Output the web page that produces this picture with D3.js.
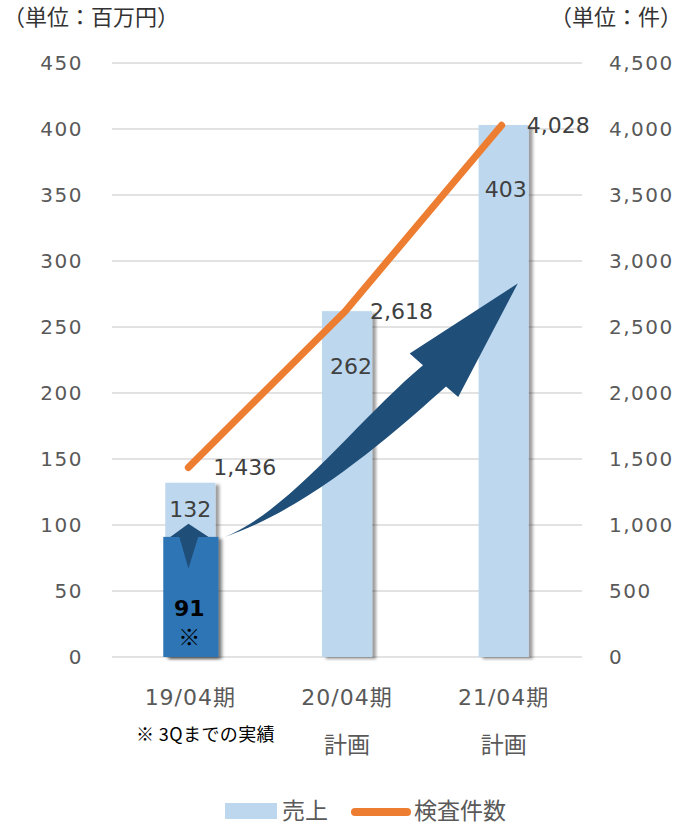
<!DOCTYPE html>
<html>
<head>
<meta charset="utf-8">
<script src="https://cdn.jsdelivr.net/npm/d3@7"></script>
<style>
  html, body { margin: 0; padding: 0; background: #fff; }
  svg { display: block; }
  text { font-family: "DejaVu Sans", "Noto Sans CJK JP", sans-serif; }
  .cjk { font-family: "Noto Sans CJK JP", sans-serif; }
</style>
</head>
<body>
<svg id="chart" width="683" height="828"></svg>
<script>
// Periods, planned flags and values
const categories = ["19/04期", "20/04期", "21/04期"];
const subLabels = ["", "計画", "計画"];
const sales = [132, 262, 403];          // 売上（百万円）
const salesActual3Q = 91;               // 19/04期 3Qまでの実績
const inspections = [1436, 2618, 4028]; // 検査件数（件）
const leftTicks = [0, 50, 100, 150, 200, 250, 300, 350, 400, 450];
const rightTicks = [0, 500, 1000, 1500, 2000, 2500, 3000, 3500, 4000, 4500];

const svg = d3.select("#chart");
const plot = { left: 112, right: 582, top: 63, bottom: 657 };

const x = d3.scaleBand().domain(categories)
  .range([plot.left, plot.right]).paddingInner(0.68).paddingOuter(0.34);
const bw = x.bandwidth();
const cx = c => x(c) + bw / 2;
const yL = d3.scaleLinear().domain([0, 450]).range([plot.bottom, plot.top]);
const yR = d3.scaleLinear().domain([0, 4500]).range([plot.bottom, plot.top]);
// position measured in category steps from the first band centre
const xu = d3.scaleLinear().domain([0, 2]).range([cx(categories[0]), cx(categories[2])]);

const defs = svg.append("defs");
const sh = defs.append("filter").attr("id", "barShadow")
  .attr("x", "-20%").attr("y", "-10%").attr("width", "150%").attr("height", "130%");
sh.append("feDropShadow").attr("dx", 4).attr("dy", 2).attr("stdDeviation", 1.6)
  .attr("flood-color", "#000").attr("flood-opacity", 0.38);

// gridlines
svg.append("g").selectAll("line").data(leftTicks).join("line")
  .attr("x1", plot.left).attr("x2", plot.right)
  .attr("y1", d => yL(d)).attr("y2", d => yL(d))
  .attr("stroke", "#d9d9d9").attr("stroke-width", 1.4);

// left axis
const axL = svg.append("g").attr("transform", `translate(${plot.left},0)`)
  .call(d3.axisLeft(yL).tickValues(leftTicks).tickSize(0).tickPadding(29));
axL.select(".domain").remove();
axL.selectAll("text").attr("font-size", 20).attr("fill", "#595959")
  .attr("letter-spacing", 1.5).attr("font-family", null);

// right axis
const axR = svg.append("g").attr("transform", `translate(${plot.right},0)`)
  .call(d3.axisRight(yR).tickValues(rightTicks).tickSize(0).tickPadding(27)
    .tickFormat(d3.format(",")));
axR.select(".domain").remove();
axR.selectAll("text").attr("font-size", 20).attr("fill", "#595959")
  .attr("letter-spacing", 1.5).attr("font-family", null);

// unit captions
svg.append("text").attr("class", "cjk").attr("x", 3).attr("y", 25).attr("font-size", 22)
  .attr("fill", "#333").text("（単位：百万円）");
svg.append("text").attr("class", "cjk").attr("x", 682).attr("y", 25).attr("font-size", 22)
  .attr("text-anchor", "end").attr("fill", "#333").text("（単位：件）");

// sales bars
svg.append("g").selectAll("rect").data(sales).join("rect")
  .attr("x", (d, i) => x(categories[i]))
  .attr("y", d => yL(d))
  .attr("width", bw)
  .attr("height", d => yL(0) - yL(d))
  .attr("fill", "#bdd7ee")
  .attr("filter", "url(#barShadow)");

// 3Q actual portion of the first bar
svg.append("rect")
  .attr("x", x(categories[0]) - 2)
  .attr("y", yL(salesActual3Q))
  .attr("width", bw + 5)
  .attr("height", yL(0) - yL(salesActual3Q))
  .attr("fill", "#2e75b6")
  .attr("filter", "url(#barShadow)");

// small upward arrow in the first bar
const pu = d3.path();
pu.moveTo(xu(-0.128), yL(91));
pu.lineTo(xu(-0.012), yL(101));
pu.lineTo(xu(0.117), yL(91));
pu.lineTo(xu(0.05), yL(91));
pu.lineTo(xu(-0.012), yL(67));
pu.lineTo(xu(-0.07), yL(91));
pu.closePath();
svg.append("path").attr("d", pu.toString()).attr("fill", "#1f4e79");

// inspections line
const line = d3.line().x((d, i) => cx(categories[i]) - 2).y(d => yR(d));
svg.append("path").datum(inspections).attr("d", line)
  .attr("fill", "none").attr("stroke", "#ed7d31").attr("stroke-width", 7)
  .attr("stroke-linecap", "round").attr("stroke-linejoin", "round");

// big growth arrow
const P = (u, v) => [xu(u), yL(v)];
const pa = d3.path();
const t0 = P(0.22, 91);
pa.moveTo(...t0);
pa.bezierCurveTo(...P(0.635, 110.6), ...P(1.08, 181), ...P(1.485, 221));
pa.lineTo(...P(1.40, 230));
pa.lineTo(...P(2.09, 283));
pa.lineTo(...P(1.71, 197));
pa.lineTo(...P(1.632, 205));
pa.bezierCurveTo(...P(1.34, 174), ...P(0.77, 113), ...t0);
pa.closePath();
svg.append("path").attr("d", pa.toString()).attr("fill", "#1f4e79");

// sales value labels
const salesLabelDy = [26, 55, 64];
const salesLabelDx = [0, 4, 2];
svg.append("g").selectAll("text").data(sales).join("text")
  .attr("x", (d, i) => cx(categories[i]) + salesLabelDx[i])
  .attr("y", (d, i) => yL(d) + salesLabelDy[i])
  .attr("dy", "0.36em").attr("text-anchor", "middle")
  .attr("font-size", 22).attr("fill", "#404040")
  .text(d => d);

// 3Q actual label
svg.append("text").attr("x", cx(categories[0]) - 1).attr("y", 608).attr("dy", "0.36em")
  .attr("text-anchor", "middle").attr("font-size", 22).attr("font-weight", "bold")
  .attr("fill", "#000").text(salesActual3Q);
svg.append("text").attr("class", "cjk").attr("x", cx(categories[0]) - 1).attr("y", 637)
  .attr("dy", "0.36em").attr("text-anchor", "middle").attr("font-size", 22)
  .attr("fill", "#000").text("※");

// inspection value labels
svg.append("g").selectAll("text").data(inspections).join("text")
  .attr("x", (d, i) => cx(categories[i]) + 23)
  .attr("y", d => yR(d))
  .attr("dy", "0.36em")
  .attr("font-size", 22).attr("fill", "#404040")
  .text(d => d3.format(",")(d));

// category labels
svg.append("g").selectAll("text").data(categories).join("text")
  .attr("x", d => cx(d))
  .attr("y", 697).attr("dy", "0.36em").attr("text-anchor", "middle")
  .attr("font-size", 22).attr("letter-spacing", 1).attr("fill", "#595959")
  .text(d => d);
svg.append("g").selectAll("text").data(subLabels).join("text")
  .attr("x", (d, i) => cx(categories[i]))
  .attr("y", 745).attr("dy", "0.36em").attr("text-anchor", "middle")
  .attr("font-size", 23).attr("fill", "#595959")
  .text(d => d);
svg.append("text").attr("class", "cjk").attr("x", 136).attr("y", 735).attr("dy", "0.36em")
  .attr("font-size", 18).attr("letter-spacing", 0.4).attr("fill", "#000")
  .text("※ 3Qまでの実績");

// legend
const lg = svg.append("g");
lg.append("rect").attr("x", 225).attr("y", 803).attr("width", 52).attr("height", 16)
  .attr("fill", "#bdd7ee");
lg.append("text").attr("x", 282).attr("y", 811).attr("dy", "0.36em")
  .attr("font-size", 23).attr("fill", "#595959").text("売上");
lg.append("line").attr("x1", 355).attr("x2", 407).attr("y1", 812).attr("y2", 812)
  .attr("stroke", "#ed7d31").attr("stroke-width", 8).attr("stroke-linecap", "round");
lg.append("text").attr("x", 414).attr("y", 811).attr("dy", "0.36em")
  .attr("font-size", 23).attr("fill", "#595959").text("検査件数");
</script>
</body>
</html>
